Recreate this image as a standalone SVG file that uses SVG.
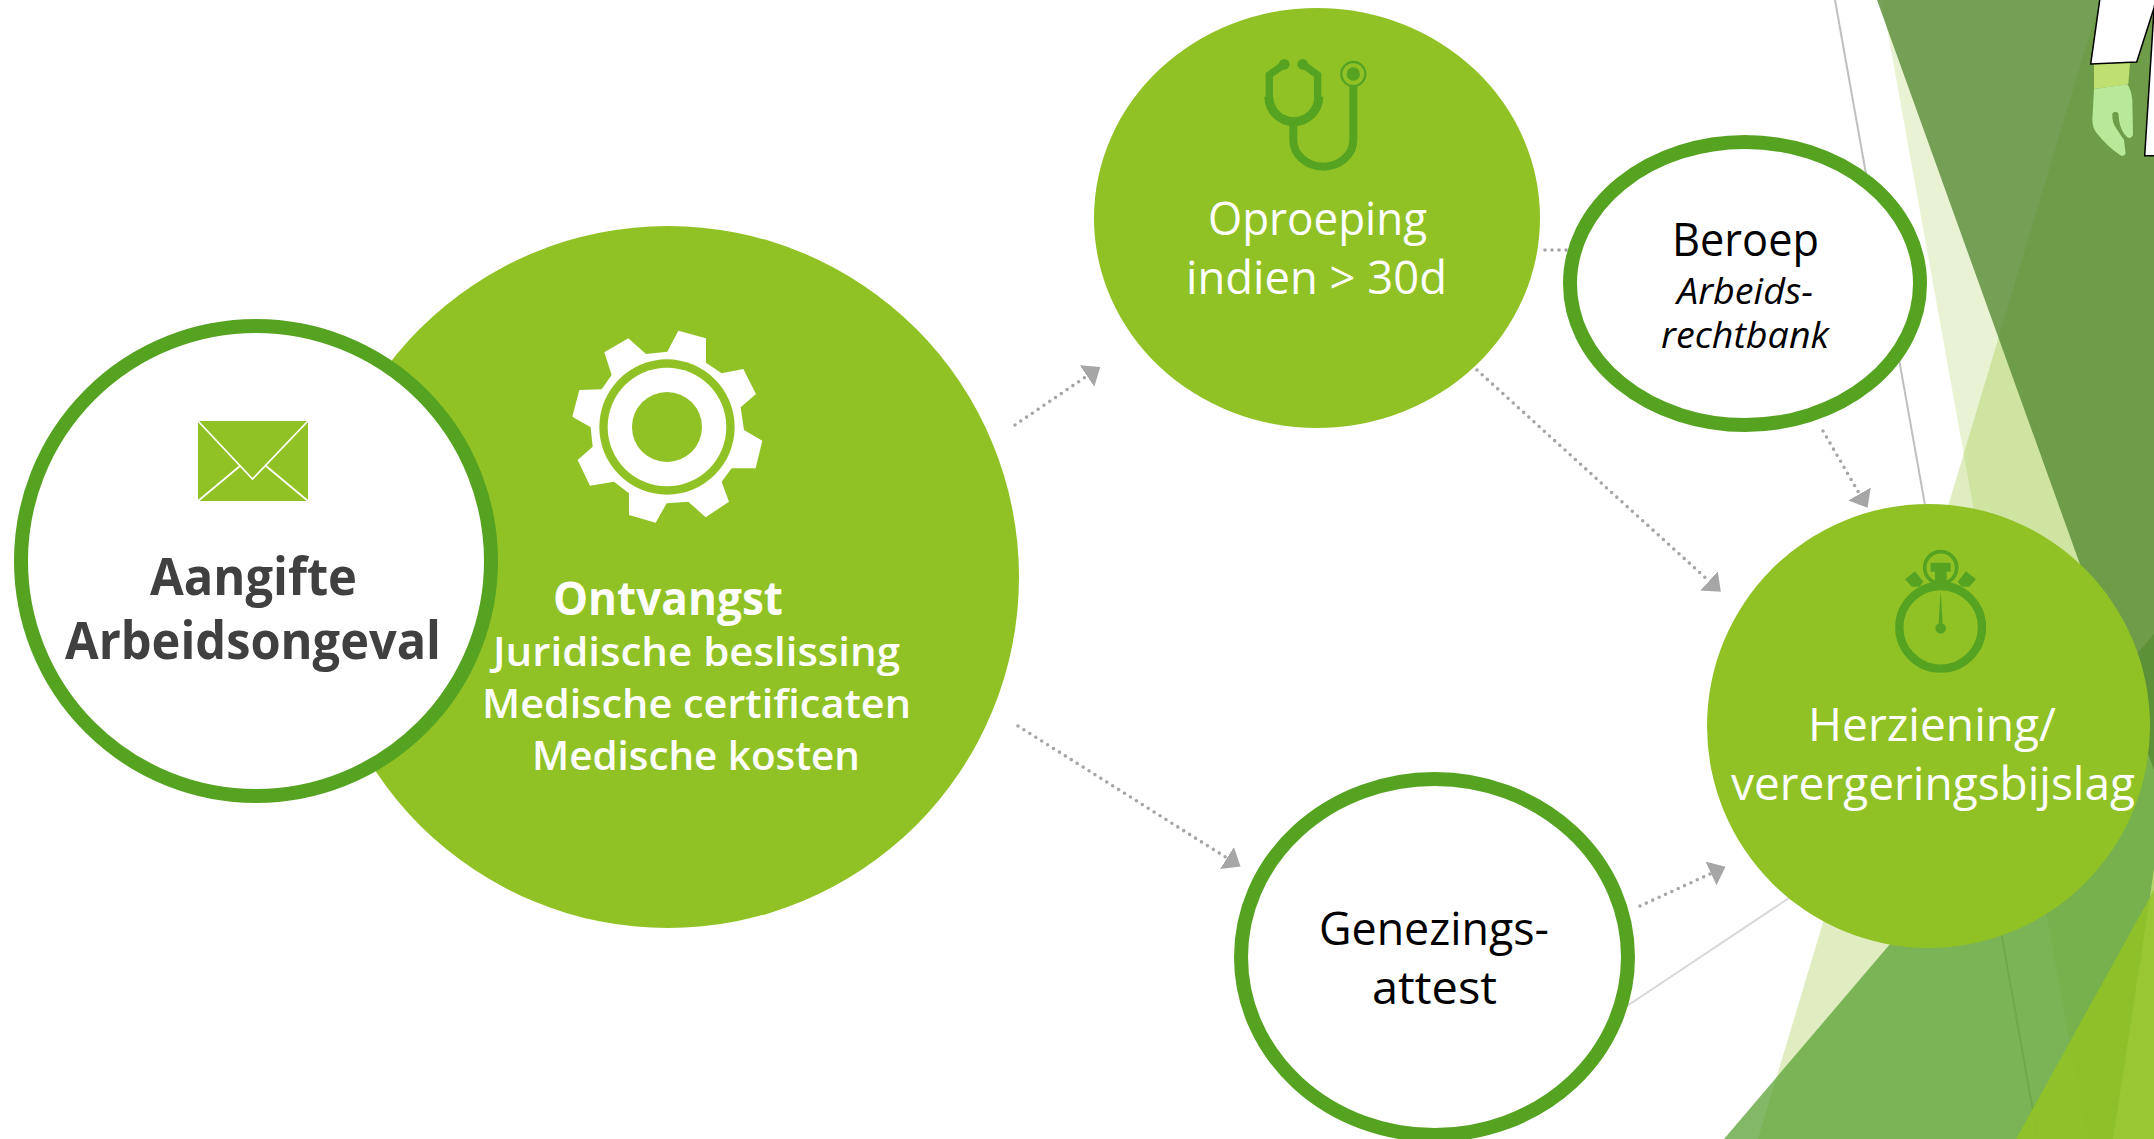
<svg xmlns="http://www.w3.org/2000/svg" width="2154" height="1139" viewBox="0 0 2154 1139">
<style>
.t{font-family:"Open Sans","Noto Sans","Liberation Sans",sans-serif;font-size:46px}
.w{fill:#fff}.k{fill:#000}
.b{font-weight:700}
.s{font-weight:600;font-size:40px}
.i{font-style:italic;font-size:36px}
.lime{fill:#90c226}
.ring{fill:#fff;stroke:#56a322;stroke-width:14}
.dark{fill:#56a322}
.ds{fill:none;stroke:#56a322}
.con{fill:none;stroke:#a6a6a6;stroke-width:3.6;stroke-linecap:round;stroke-dasharray:0 7}
.sl{fill:#fff;stroke:#000;stroke-width:1.5}
</style>
<defs>
<marker id="ah" markerUnits="userSpaceOnUse" markerWidth="16" markerHeight="26" refX="0" refY="13" orient="auto"><path d="M0,0L16,13L0,26Z" fill="#a6a6a6"/></marker>
</defs>
<rect width="2154" height="1139" fill="#fff"/>
<g id="background">
<line x1="1835" y1="0" x2="2038" y2="1139" stroke="#bfbfbf" stroke-width="2"/>
<line x1="1600" y1="1024" x2="1900" y2="824" stroke="#d9d9d9" stroke-width="2"/>
<polygon points="1882,0 2087,1139 2154,1139 2154,0" fill="#90c226" fill-opacity=".2"/>
<polygon points="2100,0 1758,1139 2154,1139 2154,0" fill="#90c226" fill-opacity=".29"/>
<polygon points="1724,1139 2154,634 2154,1139" fill="#58a033" fill-opacity=".75"/>
<polygon points="1877,0 2154,770 2154,0" fill="#568a33" fill-opacity=".8"/>
<polygon points="2016,1139 2154,890 2154,1139" fill="#90c226" fill-opacity=".9"/>
<polygon points="2113,1139 2150,897 2154,890 2154,1139" fill="#98c733"/>
<polygon points="2150,897 2154,868 2154,890" fill="#b5d86a"/>
<polygon points="2094,64.3 2130,62.7 2128.3,84.3 2094,89" fill="#bfe070"/>
<path transform="translate(2074,0) scale(.3333)" d="M60,267L160,253Q172,270 175,300L177,405Q172,418 160,412Q140,395 135,360L133,340Q125,330 115,340Q113,370 130,390L150,420L155,460Q150,472 138,465Q100,440 65,395Q55,380 55,360Z" fill="#b7e998"/>
<polygon class="sl" points="2100,-2 2090.7,64 2136.7,62 2154,8 2156,-2"/>
<polygon class="sl" points="2154,10 2144.7,155.7 2156,155.7 2156,10"/>
</g>
<g id="connectors">
<line class="con" x1="1015" y1="425" x2="1087" y2="376" marker-end="url(#ah)"/>
<line class="con" x1="1018" y1="726" x2="1227" y2="858" marker-end="url(#ah)"/>
<line class="con" x1="1477" y1="370" x2="1709" y2="581" marker-end="url(#ah)"/>
<line class="con" x1="1640" y1="906" x2="1711" y2="873.5" marker-end="url(#ah)"/>
<line class="con" x1="1823" y1="431" x2="1859.5" y2="494" marker-end="url(#ah)"/>
<line class="con" x1="1545" y1="250" x2="1570" y2="250"/>
</g>
<g id="node-ontvangst">
<circle class="lime" cx="668" cy="577" r="351"/>
<g transform="translate(470,320) scale(.3333)">
<polygon fill="#fff" points="592,95 625,32 708,55 708,128 755,160 820,147 858,222 812,262 822,330 877,362 857,445 785,445 755,485 777,545 707,592 655,545 590,550 557,608 477,585 477,520 432,485 360,497 323,420 368,380 362,322 307,290 328,210 395,208 425,165 403,97 475,55 528,102"/>
<circle cx="591" cy="321" r="203" fill="#90c226"/>
<circle cx="591" cy="321" r="178" fill="#fff"/>
<circle cx="591" cy="321" r="105" fill="#90c226"/>
</g>
<text class="t w b" x="553" y="615" textLength="230" lengthAdjust="spacingAndGlyphs">Ontvangst</text>
<text class="t w s" x="493" y="666" textLength="407" lengthAdjust="spacingAndGlyphs">Juridische beslissing</text>
<text class="t w s" x="482" y="718" textLength="429" lengthAdjust="spacingAndGlyphs">Medische certificaten</text>
<text class="t w s" x="532" y="770" textLength="328" lengthAdjust="spacingAndGlyphs">Medische kosten</text>
</g>
<g id="node-aangifte">
<circle class="ring" cx="256" cy="561" r="235"/>
<polygon class="lime" points="198,421 308,421 308,501 198,501"/>
<path d="M198,421L252.5,479L308,421M198,501L240,466M308,501L266,466" fill="none" stroke="#fff" stroke-width="1.8"/>
<text class="t b" fill="#404040" style="font-size:52px" x="150" y="595" textLength="207" lengthAdjust="spacingAndGlyphs">Aangifte</text>
<text class="t b" fill="#404040" style="font-size:52px" x="65" y="659" textLength="376" lengthAdjust="spacingAndGlyphs">Arbeidsongeval</text>
</g>
<g id="node-oproeping">
<ellipse class="lime" cx="1317" cy="218" rx="223" ry="210"/>
<g transform="translate(1080,0) scale(.3333)">
<path class="ds" stroke-width="22" d="M613,193L568,225V300M668,193L713,225V300"/>
<circle class="dark" cx="613" cy="193" r="16"/><circle class="dark" cx="668" cy="193" r="16"/>
<path class="dark" d="M553,290A88,88 0 0 0 730,290H703A61,61 0 0 1 580,290Z"/>
<path class="ds" stroke-width="24" d="M640,370V420A90,80 0 0 0 820,420V255"/>
<circle class="ds" stroke-width="7" cx="820" cy="222" r="36"/>
<circle class="dark" cx="820" cy="222" r="20"/>
</g>
<text class="t w" x="1208" y="235" textLength="219" lengthAdjust="spacingAndGlyphs">Oproeping</text>
<text class="t w" x="1186" y="294" textLength="261" lengthAdjust="spacingAndGlyphs">indien &gt; 30d</text>
</g>
<g id="node-beroep">
<ellipse class="ring" cx="1745" cy="283.5" rx="175" ry="141.5"/>
<text class="t k" x="1672" y="256" textLength="147" lengthAdjust="spacingAndGlyphs">Beroep</text>
<text class="t k i" x="1677" y="303.5" textLength="136" lengthAdjust="spacingAndGlyphs">Arbeids-</text>
<text class="t k i" x="1661" y="348" textLength="168" lengthAdjust="spacingAndGlyphs">rechtbank</text>
</g>
<g id="node-genezing">
<ellipse class="ring" cx="1434.5" cy="957" rx="193.5" ry="178"/>
<text class="t k" x="1319" y="945" textLength="230" lengthAdjust="spacingAndGlyphs">Genezings-</text>
<text class="t k" x="1372" y="1004" textLength="125" lengthAdjust="spacingAndGlyphs">attest</text>
</g>
<g id="node-herziening">
<ellipse class="lime" cx="1928.5" cy="726" rx="221.5" ry="222"/>
<g transform="translate(1860,540) scale(.3333)">
<circle class="ds" stroke-width="25" cx="242" cy="262" r="124"/>
<circle class="ds" stroke-width="11" cx="242" cy="83" r="48"/>
<path class="dark" d="M212,68H272V95H260V135H225V95H212Z"/>
<polygon class="dark" points="135,118 165,94 190,125 178,140 155,140"/>
<polygon class="dark" points="348,118 318,94 293,125 305,140 328,140"/>
<polygon class="dark" points="242,150 248,250 236,250"/>
<circle class="dark" cx="242" cy="265" r="16"/>
</g>
<text class="t w" x="1808" y="741" textLength="248" lengthAdjust="spacingAndGlyphs">Herziening/</text>
<text class="t w" x="1731" y="800" textLength="404" lengthAdjust="spacingAndGlyphs">verergeringsbijslag</text>
</g>
</svg>
